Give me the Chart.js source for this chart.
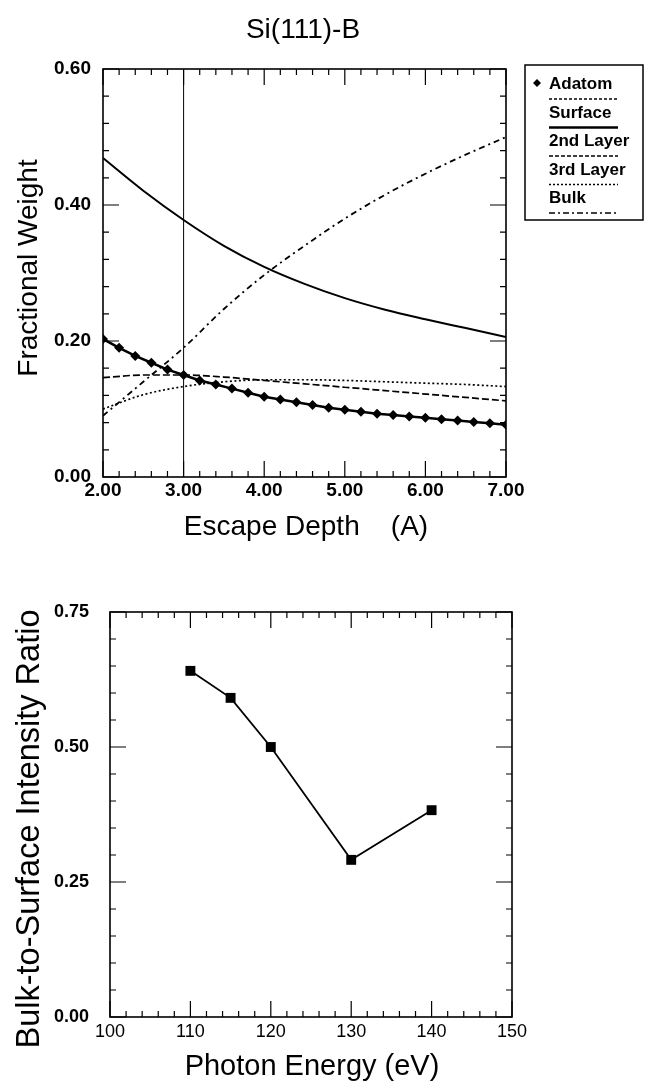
<!DOCTYPE html>
<html><head><meta charset="utf-8">
<script src="https://cdn.jsdelivr.net/npm/chart.js@4.4.1/dist/chart.umd.min.js"></script>
<style>
html,body{margin:0;padding:0;background:#fff;width:646px;height:1081px;overflow:hidden}
#c1{position:absolute;left:0;top:0}
#c2{position:absolute;left:0;top:545px}
</style></head><body>
<canvas id="c1" width="646" height="545"></canvas>
<canvas id="c2" width="646" height="536"></canvas>
<script>
// ---------- data: top panel ----------
const seriesNames = ['Adatom', 'Surface', '2nd Layer', '3rd Layer', 'Bulk'];
const depthFine = [2.0, 2.2, 2.4, 2.6, 2.8, 3.0, 3.2, 3.4, 3.6, 3.8, 4.0, 4.2, 4.4, 4.6, 4.8, 5.0, 5.2, 5.4, 5.6, 5.8, 6.0, 6.2, 6.4, 6.6, 6.8, 7.0];
const adatom = [0.203, 0.190, 0.178, 0.168, 0.158, 0.150, 0.142, 0.136, 0.130, 0.124, 0.118, 0.114, 0.110, 0.106, 0.102, 0.099, 0.096, 0.093, 0.091, 0.089, 0.087, 0.085, 0.083, 0.081, 0.079, 0.077];
const depth = [2.0, 2.5, 3.0, 3.5, 4.0, 4.5, 5.0, 5.5, 6.0, 6.5, 7.0];
const surface = [0.469, 0.421, 0.378, 0.340, 0.309, 0.284, 0.263, 0.246, 0.232, 0.219, 0.206];
const layer2 = [0.146, 0.150, 0.150, 0.147, 0.142, 0.137, 0.132, 0.127, 0.122, 0.117, 0.112];
const layer3 = [0.100, 0.121, 0.133, 0.140, 0.143, 0.143, 0.142, 0.140, 0.138, 0.136, 0.133];
const bulk = [0.090, 0.140, 0.190, 0.247, 0.297, 0.340, 0.380, 0.415, 0.446, 0.474, 0.500];
const refDepth = [3.0, 3.0];
const refWeight = [0.0, 0.6];
const depthTicks = [2, 3, 4, 5, 6, 7];
const weightTicks = [0.0, 0.2, 0.4, 0.6];

// ---------- data: bottom panel ----------
const energy = [110, 115, 120, 130, 140];
const ratio = [0.641, 0.591, 0.500, 0.291, 0.383];
const energyTicks = [100, 110, 120, 130, 140, 150];
const ratioTicks = [0.00, 0.25, 0.50, 0.75];

const FONT = '"Liberation Sans", Arial, Helvetica, sans-serif';
Chart.defaults.font.family = FONT;
Chart.defaults.color = '#000';

function pts(xs, ys) { return xs.map((x, i) => ({x: x, y: ys[i]})); }

// inward ticks + frame
function frameTicks(id, xMinor, yMinor) {
  return {
    id: id,
    afterDraw(chart) {
      const c = chart.ctx, a = chart.chartArea, xs = chart.scales.x, ys = chart.scales.y;
      c.save();
      c.strokeStyle = '#000';
      c.lineWidth = 1.6;
      c.strokeRect(a.left, a.top, a.right - a.left, a.bottom - a.top);
      c.lineWidth = 1.2;
      const MAJ = 16, MIN = 6;
      const nx = Math.round((xs.max - xs.min) / xMinor);
      for (let i = 0; i <= nx; i++) {
        const v = xs.min + i * xMinor;
        const major = xs.ticks.some(t => Math.abs(t.value - v) < 1e-6);
        const L = major ? MAJ : MIN;
        const p = xs.getPixelForValue(v);
        c.beginPath();
        c.moveTo(p, a.bottom); c.lineTo(p, a.bottom - L);
        c.moveTo(p, a.top); c.lineTo(p, a.top + L);
        c.stroke();
      }
      const ny = Math.round((ys.max - ys.min) / yMinor);
      for (let i = 0; i <= ny; i++) {
        const v = ys.min + i * yMinor;
        const major = ys.ticks.some(t => Math.abs(t.value - v) < 1e-6);
        const L = major ? MAJ : MIN;
        const p = ys.getPixelForValue(v);
        c.beginPath();
        c.moveTo(a.left, p); c.lineTo(a.left + L, p);
        c.moveTo(a.right, p); c.lineTo(a.right - L, p);
        c.stroke();
      }
      c.restore();
    }
  };
}

function texts(id, items) {
  return {
    id: id,
    afterDraw(chart) {
      const c = chart.ctx;
      items.forEach(t => {
        c.save();
        c.font = (t.weight || 'normal') + ' ' + t.size + 'px ' + FONT;
        c.fillStyle = '#000';
        c.textAlign = 'center';
        c.textBaseline = 'alphabetic';
        c.translate(t.x, t.y);
        if (t.rot) c.rotate(t.rot);
        c.fillText(t.text, 0, t.size * 0.36);
        c.restore();
      });
    }
  };
}

// boxed legend with samples under each label
const legendPlugin = {
  id: 'boxLegend',
  afterDraw(chart) {
    const c = chart.ctx;
    const bx = 525, by = 65, bw = 118, bh = 155;
    c.save();
    c.strokeStyle = '#000';
    c.lineWidth = 1.5;
    c.strokeRect(bx, by, bw, bh);
    const rowH = 28.5;
    const tx = 549, sx0 = 549, sx1 = 618;
    chart.data.datasets.slice(0, 5).forEach((ds, i) => {
      const cy = 83 + i * rowH;
      c.font = 'bold 17px ' + FONT;
      c.fillStyle = '#000';
      c.textAlign = 'left';
      c.textBaseline = 'alphabetic';
      c.fillText(ds.label, tx, cy + 6);
      if (i === 0) {
        c.beginPath();
        c.moveTo(537, cy - 4); c.lineTo(541, cy); c.lineTo(537, cy + 4); c.lineTo(533, cy);
        c.closePath(); c.fill();
      }
      const ly = cy + 16;
      c.beginPath();
      c.lineWidth = ds.legendWidth;
      c.setLineDash(ds.legendDash);
      c.moveTo(sx0, ly); c.lineTo(sx1, ly);
      c.stroke();
    });
    c.restore();
  }
};

new Chart(document.getElementById('c1'), {
  type: 'line',
  data: {
    datasets: [
      {label: seriesNames[0], data: pts(depthFine, adatom), borderColor: '#000', backgroundColor: '#000', borderWidth: 2.5,
       pointStyle: 'rectRot', pointRadius: 5, pointBorderWidth: 0, legendDash: [3, 2], legendWidth: 1.5, order: 0},
      {label: seriesNames[1], data: pts(depth, surface), borderColor: '#000', borderWidth: 2, pointRadius: 0,
       cubicInterpolationMode: 'monotone', legendDash: [], legendWidth: 2.5},
      {label: seriesNames[2], data: pts(depth, layer2), borderColor: '#000', borderWidth: 1.7, borderDash: [7, 3], pointRadius: 0,
       cubicInterpolationMode: 'monotone', legendDash: [4, 2], legendWidth: 1.6},
      {label: seriesNames[3], data: pts(depth, layer3), borderColor: '#000', borderWidth: 1.7, borderDash: [2, 2.5], pointRadius: 0,
       cubicInterpolationMode: 'monotone', legendDash: [2, 2], legendWidth: 1.6},
      {label: seriesNames[4], data: pts(depth, bulk), borderColor: '#000', borderWidth: 1.8, borderDash: [6, 4, 2, 4], pointRadius: 0,
       cubicInterpolationMode: 'monotone', legendDash: [6, 3, 2, 3], legendWidth: 1.6},
      {label: 'ref', data: pts(refDepth, refWeight), borderColor: '#000', borderWidth: 1, pointRadius: 0}
    ]
  },
  options: {
    responsive: false, animation: false, events: [],
    layout: {padding: {left: 0, right: 140, top: 69, bottom: 0}},
    plugins: {legend: {display: false}, tooltip: {enabled: false}, title: {display: false}},
    scales: {
      x: {type: 'linear', min: 2, max: 7,
          afterBuildTicks: s => { s.ticks = depthTicks.map(v => ({value: v})); },
          afterFit: s => { s.height = 68; },
          grid: {display: false, drawTicks: false}, border: {display: false},
          ticks: {padding: 2, font: {size: 19, weight: 'bold'}, color: '#000', maxRotation: 0, callback: v => Number(v).toFixed(2)}},
      y: {type: 'linear', min: 0, max: 0.6,
          afterBuildTicks: s => { s.ticks = weightTicks.map(v => ({value: v})); },
          afterFit: s => { s.width = 103; },
          grid: {display: false, drawTicks: false}, border: {display: false},
          ticks: {padding: 12, font: {size: 19, weight: 'bold'}, color: '#000', callback: v => Number(v).toFixed(2)}}
    }
  },
  plugins: [frameTicks('ft1', 0.2, 0.04), legendPlugin, texts('tx1', [
    {text: 'Si(111)-B', x: 303, y: 28, size: 28},
    {text: 'Fractional Weight', x: 27, y: 268, size: 28, rot: -Math.PI / 2},
    {text: 'Escape Depth    (A)', x: 306, y: 525, size: 28}
  ])]
});

new Chart(document.getElementById('c2'), {
  type: 'line',
  data: {
    datasets: [
      {label: 'Bulk-to-Surface Intensity Ratio', data: pts(energy, ratio), borderColor: '#000', backgroundColor: '#000',
       borderWidth: 1.8, pointStyle: 'rect', pointRadius: 7, pointBorderWidth: 0}
    ]
  },
  options: {
    responsive: false, animation: false, events: [],
    layout: {padding: {left: 0, right: 134, top: 67, bottom: 0}},
    plugins: {legend: {display: false}, tooltip: {enabled: false}, title: {display: false}},
    scales: {
      x: {type: 'linear', min: 100, max: 150,
          afterBuildTicks: s => { s.ticks = energyTicks.map(v => ({value: v})); },
          afterFit: s => { s.height = 64; },
          grid: {display: false, drawTicks: false}, border: {display: false},
          ticks: {padding: 4, font: {size: 18}, color: '#000', maxRotation: 0, callback: v => String(v)}},
      y: {type: 'linear', min: 0, max: 0.75,
          afterBuildTicks: s => { s.ticks = ratioTicks.map(v => ({value: v})); },
          afterFit: s => { s.width = 110; },
          grid: {display: false, drawTicks: false}, border: {display: false},
          ticks: {padding: 21, font: {size: 18, weight: 'bold'}, color: '#000', callback: v => Number(v).toFixed(2)}}
    }
  },
  plugins: [frameTicks('ft2', 2, 0.05), texts('tx2', [
    {text: 'Bulk-to-Surface Intensity Ratio', x: 27, y: 284, size: 32.5, rot: -Math.PI / 2},
    {text: 'Photon Energy (eV)', x: 312, y: 520, size: 29}
  ])]
});
</script>
</body></html>
